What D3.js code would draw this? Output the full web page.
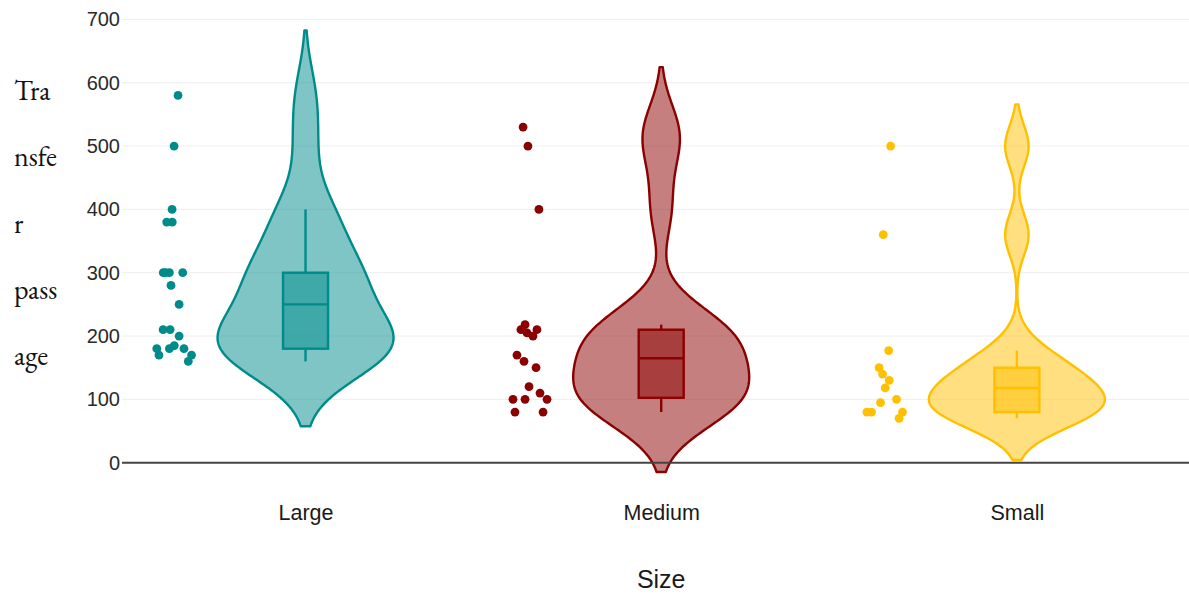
<!DOCTYPE html>
<html>
<head>
<meta charset="utf-8">
<script src="https://cdn.jsdelivr.net/npm/d3@7"></script>
<style>
  body { margin: 0; background: #fff; }
  svg { display: block; }
</style>
</head>
<body>
<svg id="chart" width="1189" height="594"></svg>
<script>
// ---- data -------------------------------------------------------------
const categories = ["Large", "Medium", "Small"];

const largeValues  = [580, 500, 400, 380, 380, 300, 300, 300, 300, 280, 250, 210, 210, 200, 185, 180, 180, 180, 170, 170, 160];
const mediumValues = [530, 500, 400, 218, 210, 210, 205, 200, 170, 160, 150, 120, 110, 100, 100, 100, 80, 80];
const smallValues  = [500, 360, 177, 150, 140, 130, 118, 100, 95, 80, 80, 80, 70];

// horizontal jitter of each point, as a fraction of the jitter half-width
const largeJitter  = [0.25, 0.03, -0.08, -0.38, -0.07, -0.57, -0.23, 0.51, -0.45, -0.14, 0.31, -0.58, -0.19, 0.31, 0.04, -0.93, -0.23, 0.58, -0.81, 1.0, 0.82];
const mediumJitter = [-0.34, -0.07, 0.54, -0.23, -0.46, 0.43, -0.12, 0.21, -0.68, -0.29, 0.38, -0.01, 0.6, -0.9, -0.23, 0.99, -0.79, 0.77];
const smallJitter  = [0.32, -0.09, 0.21, -0.32, -0.13, 0.24, 0.02, 0.65, -0.24, -1.0, -0.74, 0.98, 0.79];

const yTicks = [0, 100, 200, 300, 400, 500, 600, 700];
const yTitleLines = ["Tra", "nsfe", "r", "pass", "age"];
const xTitle = "Size";

const seriesColors = ["#008B8B", "#8B0000", "#FFC000"];

const series = categories.map((c, i) => ({
  name: c,
  values: [largeValues, mediumValues, smallValues][i],
  jitter: [largeJitter, mediumJitter, smallJitter][i],
  color: seriesColors[i]
}));

// ---- layout -----------------------------------------------------------
const svg = d3.select("#chart");
const plotLeft = 122, plotRight = 1195;

const x = d3.scalePoint().domain(categories).range([127.7, 1194.7]).padding(0.5);
const y = d3.scaleLinear().domain([0, 700]).range([462.7, 19.4]);

const violinHalf = 88;    // half-width of the widest part of each violin
const boxHalf = 22.5;     // half-width of the inner box
const pointShift = -132;  // points drawn to the left of each violin
const jitterScale = d3.scaleLinear().domain([-1, 1]).range([-18, 18]);
const strokeW = 2.4;

const fontSans = "'Liberation Sans', Arial, Helvetica, sans-serif";

// gridlines
svg.append("g")
  .selectAll("line")
  .data(yTicks.filter(t => t !== 0))
  .join("line")
  .attr("x1", plotLeft).attr("x2", plotRight)
  .attr("y1", d => y(d)).attr("y2", d => y(d))
  .attr("stroke", "#eee").attr("stroke-width", 1);

// y axis labels
const yAxis = d3.axisLeft(y).tickValues(yTicks).tickSize(0).tickPadding(2);
const gy = svg.append("g").attr("transform", `translate(${plotLeft},0)`).call(yAxis);
gy.select(".domain").remove();
gy.selectAll("text")
  .attr("font-family", fontSans)
  .attr("font-size", 20)
  .attr("fill", "#2a2a2a");

// x axis labels
const xAxis = d3.axisBottom(x).tickSize(0).tickPadding(0);
const gx = svg.append("g").attr("transform", `translate(0,${y(0)})`).call(xAxis);
gx.select(".domain").remove();
gx.selectAll("text")
  .attr("font-family", fontSans)
  .attr("font-size", 21.5)
  .attr("fill", "#1a1a1a")
  .attr("dy", null)
  .attr("y", 50)
  .attr("dominant-baseline", "central");

// ---- kernel density (Gaussian, Silverman bandwidth) ------------------
function density(values) {
  const sorted = values.slice().sort(d3.ascending);
  const n = sorted.length;
  const sd = d3.deviation(sorted);
  const iqr = d3.quantile(sorted, 0.75) - d3.quantile(sorted, 0.25);
  const bw = 1.059 * Math.min(sd, iqr / 1.349) * Math.pow(n, -0.2);
  const lo = sorted[0] - 2 * bw, hi = sorted[n - 1] + 2 * bw;
  const steps = 240;
  return d3.range(steps + 1).map(i => {
    const t = lo + (hi - lo) * i / steps;
    const d = d3.sum(sorted, v => Math.exp(-0.5 * ((t - v) / bw) ** 2));
    return [t, d];
  });
}

function boxStats(values) {
  const s = values.slice().sort(d3.ascending);
  const q1 = d3.quantile(s, 0.25), med = d3.quantile(s, 0.5), q3 = d3.quantile(s, 0.75);
  const iqr = q3 - q1;
  const lowFence = q1 - 1.5 * iqr, highFence = q3 + 1.5 * iqr;
  const lo = d3.min(s.filter(v => v >= lowFence));
  const hi = d3.max(s.filter(v => v <= highFence));
  return { q1, med, q3, lo, hi };
}

// ---- violins, boxes, points ------------------------------------------
series.forEach(s => {
  const cx = x(s.name);
  const g = svg.append("g");
  const dens = density(s.values);
  const w = d3.scaleLinear().domain([0, d3.max(dens, d => d[1])]).range([0, violinHalf]);

  const area = d3.area()
    .y(d => y(d[0]))
    .x0(d => cx - w(d[1]))
    .x1(d => cx + w(d[1]))
    .curve(d3.curveLinear);

  const fill = d3.color(s.color); fill.opacity = 0.5;

  g.append("path")
    .datum(dens)
    .attr("d", area)
    .attr("fill", fill.formatRgb())
    .attr("stroke", s.color)
    .attr("stroke-width", strokeW)
    .attr("stroke-linejoin", "round");

  const b = boxStats(s.values);
  g.append("line")
    .attr("x1", cx).attr("x2", cx)
    .attr("y1", y(b.q3)).attr("y2", y(b.hi))
    .attr("stroke", s.color).attr("stroke-width", strokeW);
  g.append("line")
    .attr("x1", cx).attr("x2", cx)
    .attr("y1", y(b.q1)).attr("y2", y(b.lo))
    .attr("stroke", s.color).attr("stroke-width", strokeW);
  g.append("rect")
    .attr("x", cx - boxHalf).attr("width", 2 * boxHalf)
    .attr("y", y(b.q3)).attr("height", y(b.q1) - y(b.q3))
    .attr("fill", fill.formatRgb())
    .attr("stroke", s.color).attr("stroke-width", strokeW);
  g.append("line")
    .attr("x1", cx - boxHalf).attr("x2", cx + boxHalf)
    .attr("y1", y(b.med)).attr("y2", y(b.med))
    .attr("stroke", s.color).attr("stroke-width", strokeW);

  g.append("g")
    .selectAll("circle")
    .data(s.values.map((v, i) => ({ v, j: s.jitter[i] })))
    .join("circle")
    .attr("cx", d => cx + pointShift + jitterScale(d.j))
    .attr("cy", d => y(d.v))
    .attr("r", 4.4)
    .attr("fill", s.color);
});

// zero line
svg.append("line")
  .attr("x1", plotLeft).attr("x2", plotRight)
  .attr("y1", y(0)).attr("y2", y(0))
  .attr("stroke", "#444").attr("stroke-width", 2);

// axis titles
svg.append("text")
  .attr("x", x("Medium"))
  .attr("y", 579)
  .attr("text-anchor", "middle")
  .attr("dominant-baseline", "central")
  .attr("font-family", fontSans)
  .attr("font-size", 25)
  .attr("fill", "#1a1a1a")
  .text(xTitle);

const yt = svg.append("text")
  .attr("font-family", "'EB Garamond', Garamond, 'Liberation Serif', 'DejaVu Serif', serif")
  .attr("font-size", 28)
  .attr("fill", "#111");
yt.selectAll("tspan")
  .data(yTitleLines)
  .join("tspan")
  .attr("x", 14)
  .attr("y", (d, i) => 100 + i * 66.3)
  .text(d => d);
</script>
</body>
</html>
